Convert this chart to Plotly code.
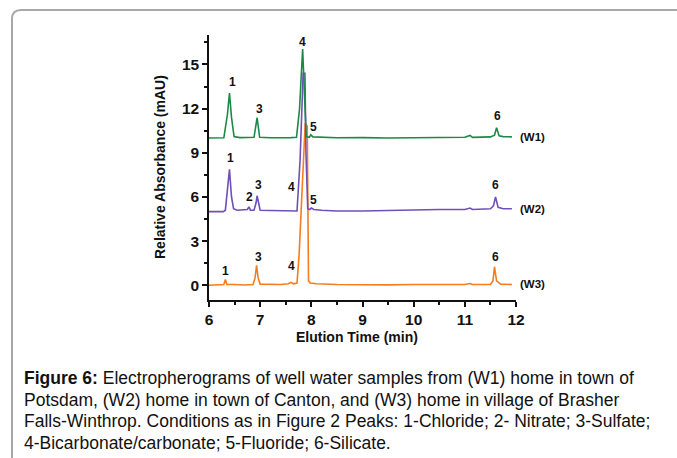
import plotly.graph_objects as go

# ---------------- data ----------------
w1_t = [6.0, 6.2, 6.29, 6.36, 6.40, 6.44, 6.49, 6.6, 6.8, 6.88, 6.94, 6.99, 7.2, 7.4, 7.6, 7.71,
        7.77, 7.83, 7.87, 7.90, 7.96, 7.99, 8.03, 8.2, 8.5, 9.0, 9.5, 10.0, 10.5, 11.0, 11.1,
        11.15, 11.5, 11.58, 11.62, 11.67, 11.75, 11.92]
w1_v = [10.0, 10.0, 10.02, 11.6, 13.05, 11.4, 10.1, 10.03, 10.02, 10.05, 11.38, 10.05, 10.02, 10.0,
        10.03, 10.05, 12.0, 16.05, 12.0, 10.1, 10.05, 10.22, 10.08, 10.05, 10.02, 10.03, 10.0, 10.02,
        10.05, 10.05, 10.18, 10.05, 10.08, 10.2, 10.7, 10.15, 10.1, 10.08]

w2_t = [6.0, 6.28, 6.32, 6.37, 6.40, 6.44, 6.48, 6.55, 6.7, 6.75, 6.78, 6.81, 6.88, 6.92, 6.94,
        6.97, 7.0, 7.2, 7.5, 7.72, 7.78, 7.84, 7.875, 7.895, 7.93, 7.97, 8.0, 8.05, 8.2, 8.5, 9.0,
        9.5, 10.0, 10.5, 11.0, 11.1, 11.15, 11.5, 11.56, 11.60, 11.65, 11.75, 11.92]
w2_v = [5.0, 5.0, 5.1, 7.0, 7.87, 6.0, 5.2, 5.1, 5.1, 5.15, 5.33, 5.1, 5.1, 5.6, 6.08,
        5.5, 5.1, 5.08, 5.05, 5.05, 8.5, 14.4, 14.4, 9.0, 5.2, 5.15, 5.25, 5.15, 5.1, 5.05, 5.05,
        5.1, 5.1, 5.15, 5.15, 5.25, 5.15, 5.2, 5.4, 6.0, 5.3, 5.2, 5.2]

w3_t = [6.0, 6.25, 6.29, 6.32, 6.35, 6.5, 6.7, 6.86, 6.90, 6.93, 6.96, 7.0, 7.2, 7.4, 7.55, 7.6,
        7.65, 7.72, 7.76, 7.88, 7.92, 7.945, 7.98, 8.1, 8.5, 9.0, 9.5, 10.0, 10.5, 11.0, 11.1,
        11.15, 11.5, 11.55, 11.58, 11.62, 11.7, 11.92]
w3_v = [0.0, 0.02, 0.05, 0.4, 0.05, 0.05, 0.02, 0.05, 0.5, 1.36, 0.5, 0.08, 0.05, 0.05, 0.1, 0.2,
        0.1, 0.15, 2.0, 11.0, 10.8, 0.3, 0.15, 0.1, 0.05, 0.02, 0.03, 0.05, 0.05, 0.05, 0.12,
        0.05, 0.05, 0.3, 1.25, 0.3, 0.08, 0.05]

# peak labels: text, x, y (data units)
w1_lab = ["1", "3", "4", "5", "6"]
w1_lx = [6.45, 6.98, 7.82, 8.04, 11.63]
w1_ly = [13.8, 12.0, 16.5, 10.75, 11.5]
w2_lab = ["1", "2", "3", "4", "5", "6"]
w2_lx = [6.42, 6.80, 6.97, 7.62, 8.04, 11.59]
w2_ly = [8.65, 6.0, 6.8, 6.7, 5.8, 6.8]
w3_lab = ["1", "3", "4", "6"]
w3_lx = [6.33, 6.96, 7.62, 11.59]
w3_ly = [0.95, 1.9, 1.3, 1.9]

series_names = ["(W1)", "(W2)", "(W3)"]
series_end_y = [10.1, 5.15, 0.1]

x_ticks = [6, 7, 8, 9, 10, 11, 12]
y_ticks = [0, 3, 6, 9, 12, 15]
y_range = [-1, 17]

caption = [
    "<b>Figure 6:</b> Electropherograms of well water samples from (W1) home in town of",
    "Potsdam, (W2) home in town of Canton, and (W3) home in village of Brasher",
    "Falls-Winthrop. Conditions as in Figure 2 Peaks: 1-Chloride; 2- Nitrate; 3-Sulfate;",
    "4-Bicarbonate/carbonate; 5-Fluoride; 6-Silicate.",
]

# ---------------- layout geometry ----------------
W, H = 677, 458
L, R, T, B = 209, 516, 35, 300   # plot area in pixels


def px(xpix):
    return (xpix - L) / (R - L)


def py(ypix):
    return (B - ypix) / (B - T)


def ydata_to_paper(v):
    return (v - y_range[0]) / (y_range[1] - y_range[0])


GREEN = "#1b8a47"
PURPLE = "#7050b8"
ORANGE = "#f57d1f"
FONT = "Liberation Sans, Arial, sans-serif"

fig = go.Figure()
fig.add_trace(go.Scatter(x=w3_t, y=w3_v, mode="lines", line=dict(color=ORANGE, width=1.6),
                         showlegend=False, hoverinfo="skip"))
fig.add_trace(go.Scatter(x=w2_t, y=w2_v, mode="lines", line=dict(color=PURPLE, width=1.6),
                         showlegend=False, hoverinfo="skip"))
fig.add_trace(go.Scatter(x=w1_t, y=w1_v, mode="lines", line=dict(color=GREEN, width=1.6),
                         showlegend=False, hoverinfo="skip"))

ann = []
for labs, lx, ly in [(w1_lab, w1_lx, w1_ly), (w2_lab, w2_lx, w2_ly), (w3_lab, w3_lx, w3_ly)]:
    for t, x, y in zip(labs, lx, ly):
        ann.append(dict(x=x, y=y, xref="x", yref="y", text="<b>%s</b>" % t, showarrow=False,
                        xanchor="center", yanchor="middle",
                        font=dict(family=FONT, size=12, color="#111")))
for name, y in zip(series_names, series_end_y):
    ann.append(dict(x=px(518), y=ydata_to_paper(y), xref="paper", yref="paper",
                    text="<b>%s</b>" % name, showarrow=False,
                    xanchor="left", yanchor="middle", font=dict(family=FONT, size=11.5, color="#111")))

# axis titles
ann.append(dict(x=px(160), y=py(167), xref="paper", yref="paper", showarrow=False,
                xanchor="center", yanchor="middle",
                text="<b>Relative Absorbance (mAU)</b>", textangle=-90,
                font=dict(family=FONT, size=14, color="#111")))
ann.append(dict(x=px(357), y=py(337), xref="paper", yref="paper", showarrow=False,
                xanchor="center", yanchor="middle",
                text="<b>Elution Time (min)</b>", font=dict(family=FONT, size=14, color="#111")))

# caption
for i, line in enumerate(caption):
    ann.append(dict(x=px(22), y=py(378 + i * 21.5), xref="paper", yref="paper", showarrow=False,
                    xanchor="left", yanchor="middle", text=line,
                    font=dict(family=FONT, size=17.5, color="#111")))

# frame with rounded top-left corner
x0, y0, r = 12, 10, 9
path = "M %f,%f L %f,%f Q %f,%f %f,%f L %f,%f" % (
    px(x0), py(470), px(x0), py(y0 + r), px(x0), py(y0), px(x0 + r), py(y0), px(690), py(y0))
shapes = [dict(type="path", xref="paper", yref="paper", path=path,
               line=dict(color="#a8a8a8", width=2), layer="below")]

axis_common = dict(showline=True, linecolor="#111", linewidth=1.5, ticks="outside",
                   tickcolor="#111", tickwidth=1.5, ticklen=5, showgrid=False, zeroline=False,
                   tickfont=dict(family=FONT, size=15.5, color="#111", weight="bold"))

fig.update_layout(
    width=W, height=H,
    margin=dict(l=L, r=W - R, t=T, b=H - B, pad=0),
    paper_bgcolor="white", plot_bgcolor="white",
    annotations=ann, shapes=shapes,
    xaxis=dict(range=[6, 12], tickvals=x_ticks, ticktext=[str(v) for v in x_ticks],
               minor=dict(dtick=0.5, ticks="outside", ticklen=3, tickcolor="#111", tickwidth=1.5),
               **axis_common),
    yaxis=dict(range=y_range, tickvals=y_ticks, ticktext=[str(v) for v in y_ticks],
               minor=dict(dtick=1.5, tick0=0, ticks="outside", ticklen=3, tickcolor="#111",
                          tickwidth=1.5),
               **axis_common),
)

fig.write_html("out.html", config={"displayModeBar": False},
               post_script="document.body.style.margin='0';")
